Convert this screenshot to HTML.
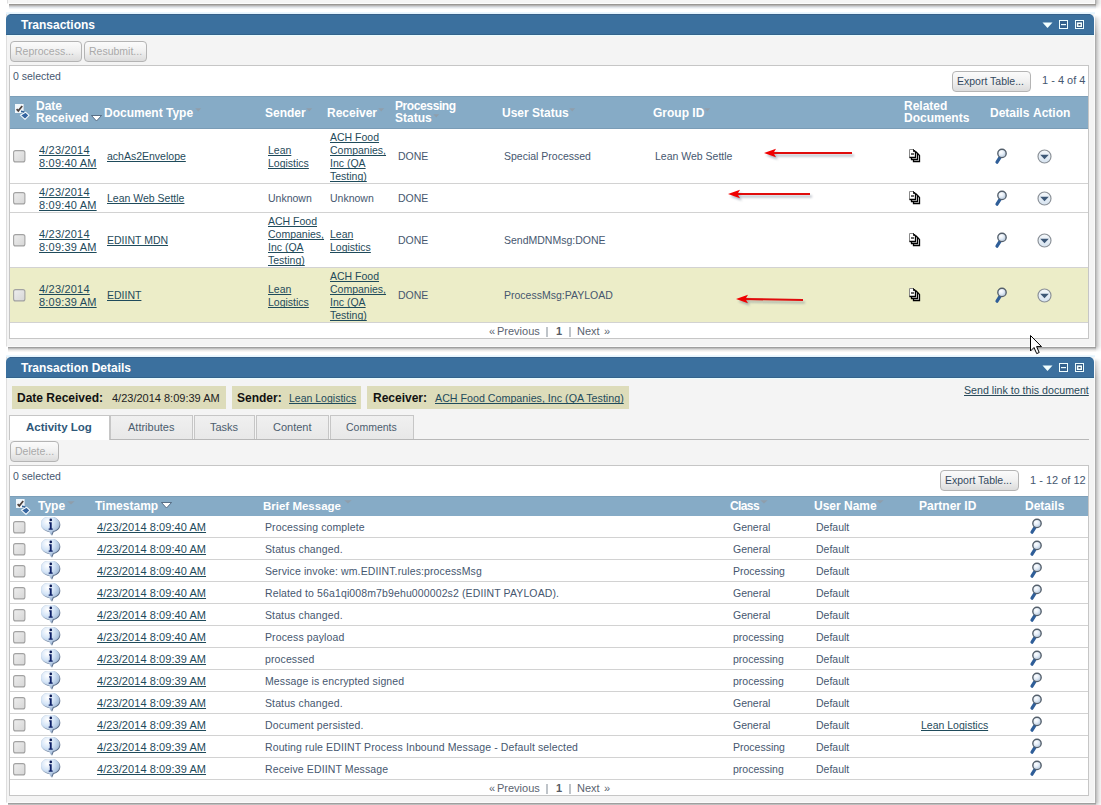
<!DOCTYPE html><html><head><meta charset="utf-8"><title>Transactions</title><style>
html,body{margin:0;padding:0;}
body{width:1101px;height:805px;overflow:hidden;position:relative;background:#ffffff;font-family:"Liberation Sans", sans-serif;}
.r{position:absolute;display:block;}
.t{position:absolute;white-space:nowrap;}
</style></head><body>
<div class="r" style="left:7px;top:-20px;width:1088px;height:24px;box-sizing:border-box;background:#f5f5f5;border-left:1px solid #dedede;border-right:1px solid #fafafa;border-bottom:1px solid #fdfdfd;"></div>
<div class="r" style="left:1095px;top:-20px;width:6px;height:29px;background:linear-gradient(90deg,#a2a2a2 0px,#bababa 1px,#cbcbcb 2px,#d9d9d9 3px,#e5e5e5 4px,#eeeeee 5px,#f3f3f3 6px);-webkit-mask-image:linear-gradient(180deg,#000 0,#000 calc(100% - 6px),transparent 100%);"></div>
<div class="r" style="left:9px;top:4px;width:1087px;height:5px;background:linear-gradient(180deg,#8c8a87 0px,#a8a6a3 1px,#c4c4c6 2px,#d8dbe0 3px,#ecf0f4 4px,#f8f8f8 5px);"></div>
<div class="r" style="left:6px;top:14px;width:1089px;height:333px;box-sizing:border-box;background:#f4f4f4;border-left:1px solid #dedede;border-right:1px solid #fafafa;border-bottom:1px solid #fbfbfb;"></div>
<div class="r" style="left:1095px;top:15px;width:6px;height:337px;background:linear-gradient(90deg,#a2a2a2 0px,#bababa 1px,#cbcbcb 2px,#d9d9d9 3px,#e5e5e5 4px,#eeeeee 5px,#f3f3f3 6px);-webkit-mask-image:linear-gradient(180deg,transparent 0,rgba(0,0,0,0.5) 4px,#000 20px,#000 calc(100% - 6px),transparent 100%);"></div>
<div class="r" style="left:8px;top:347px;width:1088px;height:5px;background:linear-gradient(180deg,#8f8f8f 0px,#b0b0b0 1px,#cdcdcd 2px,#e4e4e4 3px,#f3f1ef 4px,#fbfaf9 5px);"></div>
<div class="r" style="left:6px;top:14px;width:1088px;height:21px;background:#3b709e;border-radius:5px 5px 0 0;"></div>
<div class="r" style="left:6px;top:34px;width:1088px;height:1px;background:#33638c;"></div>
<div class="r" style="left:10px;top:14px;width:1080px;height:1px;background:#35608a;"></div>
<div class="r" style="left:6px;top:12px;width:1089px;height:2px;background:linear-gradient(180deg,#eef8ff,#e2f3fd);"></div>
<div class="r" style="left:7px;top:35px;width:1087px;height:1px;background:#eafcff;"></div>
<div class="t" style="left:21px;top:18.00px;font-size:12px;line-height:14px;color:#ffffff;font-weight:bold;">Transactions</div>
<svg class="r" style="left:1042px;top:22px" width="11" height="7" viewBox="0 0 11 7"><path d="M0.5 0.5 H10.5 L5.5 6Z" fill="#f2ffff"/></svg>
<svg class="r" style="left:1059px;top:20px" width="9" height="9" viewBox="0 0 9 9"><rect x="0.5" y="0.5" width="8" height="8" fill="#33628e" stroke="#effeff" stroke-width="1"/><rect x="2" y="4" width="5" height="1.2" fill="#effeff"/></svg>
<svg class="r" style="left:1075px;top:20px" width="9" height="9" viewBox="0 0 9 9"><rect x="0.5" y="0.5" width="8" height="8" fill="#2f5b86" stroke="#effeff" stroke-width="1"/><rect x="1.8" y="2.4" width="5.2" height="4.6" fill="#f4ffff"/><rect x="3.4" y="4.1" width="2.2" height="1.4" fill="#233a52"/></svg>
<div class="r" style="left:10px;top:41px;width:72px;height:21px;box-sizing:border-box;border:1px solid #b4b4b4;border-radius:4px;background:linear-gradient(#fbfbfb,#f0f0f0 50%,#dcdcdc);"></div>
<div class="t" style="left:15px;top:44.00px;font-size:10.5px;line-height:14px;color:#a9a9a9;">Reprocess...</div>
<div class="r" style="left:84px;top:41px;width:63px;height:21px;box-sizing:border-box;border:1px solid #b4b4b4;border-radius:4px;background:linear-gradient(#fbfbfb,#f0f0f0 50%,#dcdcdc);"></div>
<div class="t" style="left:89px;top:44.00px;font-size:10.5px;line-height:14px;color:#a9a9a9;">Resubmit...</div>
<div class="r" style="left:9px;top:65px;width:1080px;height:274px;box-sizing:border-box;background:#fff;border:1px solid #c6c6c6;"></div>
<div class="t" style="left:13px;top:69.00px;font-size:10.5px;line-height:14px;color:#46576f;">0 selected</div>
<div class="r" style="left:952px;top:71px;width:79px;height:21px;box-sizing:border-box;border:1px solid #b4b4b4;border-radius:4px;background:linear-gradient(#fbfbfb,#f0f0f0 50%,#dcdcdc);"></div>
<div class="t" style="left:957px;top:74.00px;font-size:10.5px;line-height:14px;color:#34495e;">Export Table...</div>
<div class="t" style="left:1042px;top:73.00px;font-size:11px;line-height:14px;color:#46576f;">1 - 4 of 4</div>
<div class="r" style="left:10px;top:96px;width:1078px;height:33px;background:#86abc6;border-top:1px solid #7c9fb9;border-bottom:1px solid #7a9cb6;box-sizing:border-box;"></div>
<svg class="r" style="left:14px;top:104px" width="17" height="17" viewBox="0 0 17 17"><rect x="1" y="0" width="9" height="9" fill="#fbfdff" fill-opacity="0.92"/><rect x="9" y="0" width="1" height="9" fill="#c9d7e3"/><path d="M2.6 5.2 L4.3 6.9 L8.2 2.0" fill="none" stroke="#4d423e" stroke-width="1.7"/><path d="M7 7.4 Q9.5 7.4 10.8 9.2" fill="none" stroke="#2f5f94" stroke-width="1.6"/><path d="M6.4 11.2 L11.5 8.2 L15 11.4 L11 15.4Z" fill="#3565a0" stroke="#f4fbff" stroke-width="1.1" stroke-linejoin="round"/></svg>
<div class="t" style="left:36px;top:99.00px;font-size:12px;line-height:14px;color:#ffffff;font-weight:bold;">Date</div>
<div class="t" style="left:36px;top:111.00px;font-size:12px;line-height:14px;color:#ffffff;font-weight:bold;">Received</div>
<svg class="r" style="left:91px;top:115px" width="11" height="7" viewBox="0 0 11 7"><path d="M0.5 0.5 H10.5 L5.5 6Z" fill="#ffffff" stroke="#3d5570" stroke-width="0.8"/></svg>
<div class="t" style="left:104px;top:106.00px;font-size:12px;line-height:14px;color:#ffffff;font-weight:bold;">Document Type</div>
<svg class="r" style="left:195px;top:108px" width="7" height="5" viewBox="0 0 7 5"><path d="M0.2 0.2 H6.2 L3.2 3.6Z" fill="#8f9eab"/></svg>
<div class="t" style="left:265px;top:106.00px;font-size:12px;line-height:14px;color:#ffffff;font-weight:bold;">Sender</div>
<svg class="r" style="left:306px;top:108px" width="7" height="5" viewBox="0 0 7 5"><path d="M0.2 0.2 H6.2 L3.2 3.6Z" fill="#8f9eab"/></svg>
<div class="t" style="left:327px;top:106.00px;font-size:12px;line-height:14px;color:#ffffff;font-weight:bold;">Receiver</div>
<svg class="r" style="left:378px;top:108px" width="7" height="5" viewBox="0 0 7 5"><path d="M0.2 0.2 H6.2 L3.2 3.6Z" fill="#8f9eab"/></svg>
<div class="t" style="left:395px;top:99.00px;font-size:12px;line-height:14px;color:#ffffff;font-weight:bold;letter-spacing:-0.4px;">Processing</div>
<div class="t" style="left:395px;top:111.00px;font-size:12px;line-height:14px;color:#ffffff;font-weight:bold;">Status</div>
<svg class="r" style="left:433px;top:114px" width="7" height="5" viewBox="0 0 7 5"><path d="M0.2 0.2 H6.2 L3.2 3.6Z" fill="#8f9eab"/></svg>
<div class="t" style="left:502px;top:106.00px;font-size:12px;line-height:14px;color:#ffffff;font-weight:bold;">User Status</div>
<svg class="r" style="left:569px;top:108px" width="7" height="5" viewBox="0 0 7 5"><path d="M0.2 0.2 H6.2 L3.2 3.6Z" fill="#8f9eab"/></svg>
<div class="t" style="left:653px;top:106.00px;font-size:12px;line-height:14px;color:#ffffff;font-weight:bold;">Group ID</div>
<svg class="r" style="left:704px;top:108px" width="7" height="5" viewBox="0 0 7 5"><path d="M0.2 0.2 H6.2 L3.2 3.6Z" fill="#8f9eab"/></svg>
<div class="t" style="left:904px;top:99.00px;font-size:12px;line-height:14px;color:#ffffff;font-weight:bold;">Related</div>
<div class="t" style="left:904px;top:111.00px;font-size:12px;line-height:14px;color:#ffffff;font-weight:bold;">Documents</div>
<div class="t" style="left:990px;top:106.00px;font-size:12px;line-height:14px;color:#ffffff;font-weight:bold;">Details</div>
<div class="t" style="left:1033px;top:106.00px;font-size:12px;line-height:14px;color:#ffffff;font-weight:bold;">Action</div>
<div class="r" style="left:10px;top:183px;width:1078px;height:1px;background:#d2d2d2;"></div>
<div class="r" style="left:10px;top:212px;width:1078px;height:1px;background:#d2d2d2;"></div>
<div class="r" style="left:10px;top:267px;width:1078px;height:1px;background:#d2d2d2;"></div>
<div class="r" style="left:10px;top:268px;width:1078px;height:54px;background:#ecedc8;"></div>
<div class="r" style="left:10px;top:322px;width:1078px;height:1px;background:#d2d2d2;"></div>
<svg class="r" style="left:13px;top:150px" width="13" height="13" viewBox="0 0 13 13"><defs><linearGradient id="cbg" x1="0" y1="0" x2="1" y2="1"><stop offset="0" stop-color="#eeeeee"/><stop offset="1" stop-color="#d6d6d6"/></linearGradient></defs><rect x="0.6" y="0.6" width="11.3" height="11.3" rx="2" fill="url(#cbg)" stroke="#a2a2a2" stroke-width="1.1"/></svg>
<div class="t" style="left:39px;top:143.00px;font-size:11px;line-height:14px;color:#1f4b5b;text-decoration:underline;text-underline-offset:1px;text-decoration-thickness:1px;text-decoration-skip-ink:none;letter-spacing:0.2px;">4/23/2014</div>
<div class="t" style="left:39px;top:156.00px;font-size:11px;line-height:14px;color:#1f4b5b;text-decoration:underline;text-underline-offset:1px;text-decoration-thickness:1px;text-decoration-skip-ink:none;letter-spacing:0.2px;">8:09:40 AM</div>
<div class="t" style="left:107px;top:149.00px;font-size:10.5px;line-height:14px;color:#1f4b5b;text-decoration:underline;text-underline-offset:1px;text-decoration-thickness:1px;text-decoration-skip-ink:none;">achAs2Envelope</div>
<div class="t" style="left:268px;top:143.00px;font-size:10.5px;line-height:14px;color:#1f4b5b;text-decoration:underline;text-underline-offset:1px;text-decoration-thickness:1px;text-decoration-skip-ink:none;">Lean</div>
<div class="t" style="left:268px;top:156.00px;font-size:10.5px;line-height:14px;color:#1f4b5b;text-decoration:underline;text-underline-offset:1px;text-decoration-thickness:1px;text-decoration-skip-ink:none;">Logistics</div>
<div class="t" style="left:330px;top:130.00px;font-size:10.5px;line-height:14px;color:#1f4b5b;text-decoration:underline;text-underline-offset:1px;text-decoration-thickness:1px;text-decoration-skip-ink:none;">ACH Food</div>
<div class="t" style="left:330px;top:143.00px;font-size:10.5px;line-height:14px;color:#1f4b5b;text-decoration:underline;text-underline-offset:1px;text-decoration-thickness:1px;text-decoration-skip-ink:none;">Companies,</div>
<div class="t" style="left:330px;top:156.00px;font-size:10.5px;line-height:14px;color:#1f4b5b;text-decoration:underline;text-underline-offset:1px;text-decoration-thickness:1px;text-decoration-skip-ink:none;">Inc (QA</div>
<div class="t" style="left:330px;top:169.00px;font-size:10.5px;line-height:14px;color:#1f4b5b;text-decoration:underline;text-underline-offset:1px;text-decoration-thickness:1px;text-decoration-skip-ink:none;">Testing)</div>
<div class="t" style="left:398px;top:149.00px;font-size:10.5px;line-height:14px;color:#46576f;">DONE</div>
<div class="t" style="left:504px;top:149.00px;font-size:10.5px;line-height:14px;color:#46576f;">Special Processed</div>
<div class="t" style="left:655px;top:149.00px;font-size:10.5px;line-height:14px;color:#46576f;">Lean Web Settle</div>
<svg class="r" style="left:908px;top:148px" width="14" height="16" viewBox="0 0 14 16"><path d="M5.5 5.5 H9.5 L11.5 7.5 V13.5 H5.5Z" fill="#fff" stroke="#000" stroke-width="1.3"/><path d="M3.5 3.5 H7.5 L9.5 5.5 V11.5 H3.5Z" fill="#fff" stroke="#000" stroke-width="1.3"/><path d="M1.5 1.5 H5.5 L7.5 3.5 V9.5 H1.5Z" fill="#fff" stroke="#8a8a8a" stroke-width="1"/><path d="M7.5 3.5 V9.5 H1.5" fill="none" stroke="#000" stroke-width="1.3"/><path d="M5.5 1.5 L7.5 3.5 H5.5Z" fill="#000" stroke="#000" stroke-width="0.8"/><path d="M3.0 6.0 H6.0" stroke="#000" stroke-width="1.2"/></svg>
<svg class="r" style="left:994px;top:148px" width="14" height="17" viewBox="0 0 14 17"><defs><radialGradient id="mg" cx="0.38" cy="0.35" r="0.65"><stop offset="0" stop-color="#ffffff"/><stop offset="0.5" stop-color="#e4edf7"/><stop offset="1" stop-color="#b4c6da"/></radialGradient></defs><path d="M6.0 9.3 L3.0 14.2" stroke="#2f5e98" stroke-width="3.2" stroke-linecap="round"/><circle cx="8" cy="5.4" r="4.2" fill="url(#mg)" stroke="#545f6b" stroke-width="1.35"/></svg>
<svg class="r" style="left:1037px;top:149px" width="15" height="15" viewBox="0 0 15 15"><defs><linearGradient id="ag" x1="0" y1="0" x2="0" y2="1"><stop offset="0" stop-color="#f5f8fb"/><stop offset="1" stop-color="#d6e3f0"/></linearGradient></defs><circle cx="7.5" cy="7.5" r="6.5" fill="url(#ag)" stroke="#8a9097" stroke-width="1.15"/><path d="M3.2 5.8 H11.8 L7.5 10.2Z" fill="#3d5877"/></svg>
<svg class="r" style="left:13px;top:192px" width="13" height="13" viewBox="0 0 13 13"><defs><linearGradient id="cbg" x1="0" y1="0" x2="1" y2="1"><stop offset="0" stop-color="#eeeeee"/><stop offset="1" stop-color="#d6d6d6"/></linearGradient></defs><rect x="0.6" y="0.6" width="11.3" height="11.3" rx="2" fill="url(#cbg)" stroke="#a2a2a2" stroke-width="1.1"/></svg>
<div class="t" style="left:39px;top:185.00px;font-size:11px;line-height:14px;color:#1f4b5b;text-decoration:underline;text-underline-offset:1px;text-decoration-thickness:1px;text-decoration-skip-ink:none;letter-spacing:0.2px;">4/23/2014</div>
<div class="t" style="left:39px;top:198.00px;font-size:11px;line-height:14px;color:#1f4b5b;text-decoration:underline;text-underline-offset:1px;text-decoration-thickness:1px;text-decoration-skip-ink:none;letter-spacing:0.2px;">8:09:40 AM</div>
<div class="t" style="left:107px;top:191.00px;font-size:10.5px;line-height:14px;color:#1f4b5b;text-decoration:underline;text-underline-offset:1px;text-decoration-thickness:1px;text-decoration-skip-ink:none;">Lean Web Settle</div>
<div class="t" style="left:268px;top:191.00px;font-size:10.5px;line-height:14px;color:#46576f;">Unknown</div>
<div class="t" style="left:330px;top:191.00px;font-size:10.5px;line-height:14px;color:#46576f;">Unknown</div>
<div class="t" style="left:398px;top:191.00px;font-size:10.5px;line-height:14px;color:#46576f;">DONE</div>
<svg class="r" style="left:908px;top:190px" width="14" height="16" viewBox="0 0 14 16"><path d="M5.5 5.5 H9.5 L11.5 7.5 V13.5 H5.5Z" fill="#fff" stroke="#000" stroke-width="1.3"/><path d="M3.5 3.5 H7.5 L9.5 5.5 V11.5 H3.5Z" fill="#fff" stroke="#000" stroke-width="1.3"/><path d="M1.5 1.5 H5.5 L7.5 3.5 V9.5 H1.5Z" fill="#fff" stroke="#8a8a8a" stroke-width="1"/><path d="M7.5 3.5 V9.5 H1.5" fill="none" stroke="#000" stroke-width="1.3"/><path d="M5.5 1.5 L7.5 3.5 H5.5Z" fill="#000" stroke="#000" stroke-width="0.8"/><path d="M3.0 6.0 H6.0" stroke="#000" stroke-width="1.2"/></svg>
<svg class="r" style="left:994px;top:190px" width="14" height="17" viewBox="0 0 14 17"><defs><radialGradient id="mg" cx="0.38" cy="0.35" r="0.65"><stop offset="0" stop-color="#ffffff"/><stop offset="0.5" stop-color="#e4edf7"/><stop offset="1" stop-color="#b4c6da"/></radialGradient></defs><path d="M6.0 9.3 L3.0 14.2" stroke="#2f5e98" stroke-width="3.2" stroke-linecap="round"/><circle cx="8" cy="5.4" r="4.2" fill="url(#mg)" stroke="#545f6b" stroke-width="1.35"/></svg>
<svg class="r" style="left:1037px;top:191px" width="15" height="15" viewBox="0 0 15 15"><defs><linearGradient id="ag" x1="0" y1="0" x2="0" y2="1"><stop offset="0" stop-color="#f5f8fb"/><stop offset="1" stop-color="#d6e3f0"/></linearGradient></defs><circle cx="7.5" cy="7.5" r="6.5" fill="url(#ag)" stroke="#8a9097" stroke-width="1.15"/><path d="M3.2 5.8 H11.8 L7.5 10.2Z" fill="#3d5877"/></svg>
<svg class="r" style="left:13px;top:234px" width="13" height="13" viewBox="0 0 13 13"><defs><linearGradient id="cbg" x1="0" y1="0" x2="1" y2="1"><stop offset="0" stop-color="#eeeeee"/><stop offset="1" stop-color="#d6d6d6"/></linearGradient></defs><rect x="0.6" y="0.6" width="11.3" height="11.3" rx="2" fill="url(#cbg)" stroke="#a2a2a2" stroke-width="1.1"/></svg>
<div class="t" style="left:39px;top:227.00px;font-size:11px;line-height:14px;color:#1f4b5b;text-decoration:underline;text-underline-offset:1px;text-decoration-thickness:1px;text-decoration-skip-ink:none;letter-spacing:0.2px;">4/23/2014</div>
<div class="t" style="left:39px;top:240.00px;font-size:11px;line-height:14px;color:#1f4b5b;text-decoration:underline;text-underline-offset:1px;text-decoration-thickness:1px;text-decoration-skip-ink:none;letter-spacing:0.2px;">8:09:39 AM</div>
<div class="t" style="left:107px;top:233.00px;font-size:10.5px;line-height:14px;color:#1f4b5b;text-decoration:underline;text-underline-offset:1px;text-decoration-thickness:1px;text-decoration-skip-ink:none;">EDIINT MDN</div>
<div class="t" style="left:268px;top:214.00px;font-size:10.5px;line-height:14px;color:#1f4b5b;text-decoration:underline;text-underline-offset:1px;text-decoration-thickness:1px;text-decoration-skip-ink:none;">ACH Food</div>
<div class="t" style="left:268px;top:227.00px;font-size:10.5px;line-height:14px;color:#1f4b5b;text-decoration:underline;text-underline-offset:1px;text-decoration-thickness:1px;text-decoration-skip-ink:none;">Companies,</div>
<div class="t" style="left:268px;top:240.00px;font-size:10.5px;line-height:14px;color:#1f4b5b;text-decoration:underline;text-underline-offset:1px;text-decoration-thickness:1px;text-decoration-skip-ink:none;">Inc (QA</div>
<div class="t" style="left:268px;top:253.00px;font-size:10.5px;line-height:14px;color:#1f4b5b;text-decoration:underline;text-underline-offset:1px;text-decoration-thickness:1px;text-decoration-skip-ink:none;">Testing)</div>
<div class="t" style="left:330px;top:227.00px;font-size:10.5px;line-height:14px;color:#1f4b5b;text-decoration:underline;text-underline-offset:1px;text-decoration-thickness:1px;text-decoration-skip-ink:none;">Lean</div>
<div class="t" style="left:330px;top:240.00px;font-size:10.5px;line-height:14px;color:#1f4b5b;text-decoration:underline;text-underline-offset:1px;text-decoration-thickness:1px;text-decoration-skip-ink:none;">Logistics</div>
<div class="t" style="left:398px;top:233.00px;font-size:10.5px;line-height:14px;color:#46576f;">DONE</div>
<div class="t" style="left:504px;top:233.00px;font-size:10.5px;line-height:14px;color:#46576f;">SendMDNMsg:DONE</div>
<svg class="r" style="left:908px;top:232px" width="14" height="16" viewBox="0 0 14 16"><path d="M5.5 5.5 H9.5 L11.5 7.5 V13.5 H5.5Z" fill="#fff" stroke="#000" stroke-width="1.3"/><path d="M3.5 3.5 H7.5 L9.5 5.5 V11.5 H3.5Z" fill="#fff" stroke="#000" stroke-width="1.3"/><path d="M1.5 1.5 H5.5 L7.5 3.5 V9.5 H1.5Z" fill="#fff" stroke="#8a8a8a" stroke-width="1"/><path d="M7.5 3.5 V9.5 H1.5" fill="none" stroke="#000" stroke-width="1.3"/><path d="M5.5 1.5 L7.5 3.5 H5.5Z" fill="#000" stroke="#000" stroke-width="0.8"/><path d="M3.0 6.0 H6.0" stroke="#000" stroke-width="1.2"/></svg>
<svg class="r" style="left:994px;top:232px" width="14" height="17" viewBox="0 0 14 17"><defs><radialGradient id="mg" cx="0.38" cy="0.35" r="0.65"><stop offset="0" stop-color="#ffffff"/><stop offset="0.5" stop-color="#e4edf7"/><stop offset="1" stop-color="#b4c6da"/></radialGradient></defs><path d="M6.0 9.3 L3.0 14.2" stroke="#2f5e98" stroke-width="3.2" stroke-linecap="round"/><circle cx="8" cy="5.4" r="4.2" fill="url(#mg)" stroke="#545f6b" stroke-width="1.35"/></svg>
<svg class="r" style="left:1037px;top:233px" width="15" height="15" viewBox="0 0 15 15"><defs><linearGradient id="ag" x1="0" y1="0" x2="0" y2="1"><stop offset="0" stop-color="#f5f8fb"/><stop offset="1" stop-color="#d6e3f0"/></linearGradient></defs><circle cx="7.5" cy="7.5" r="6.5" fill="url(#ag)" stroke="#8a9097" stroke-width="1.15"/><path d="M3.2 5.8 H11.8 L7.5 10.2Z" fill="#3d5877"/></svg>
<svg class="r" style="left:13px;top:289px" width="13" height="13" viewBox="0 0 13 13"><defs><linearGradient id="cbg" x1="0" y1="0" x2="1" y2="1"><stop offset="0" stop-color="#eeeeee"/><stop offset="1" stop-color="#d6d6d6"/></linearGradient></defs><rect x="0.6" y="0.6" width="11.3" height="11.3" rx="2" fill="url(#cbg)" stroke="#a2a2a2" stroke-width="1.1"/></svg>
<div class="t" style="left:39px;top:282.00px;font-size:11px;line-height:14px;color:#1f4b5b;text-decoration:underline;text-underline-offset:1px;text-decoration-thickness:1px;text-decoration-skip-ink:none;letter-spacing:0.2px;">4/23/2014</div>
<div class="t" style="left:39px;top:295.00px;font-size:11px;line-height:14px;color:#1f4b5b;text-decoration:underline;text-underline-offset:1px;text-decoration-thickness:1px;text-decoration-skip-ink:none;letter-spacing:0.2px;">8:09:39 AM</div>
<div class="t" style="left:107px;top:288.00px;font-size:10.5px;line-height:14px;color:#1f4b5b;text-decoration:underline;text-underline-offset:1px;text-decoration-thickness:1px;text-decoration-skip-ink:none;">EDIINT</div>
<div class="t" style="left:268px;top:282.00px;font-size:10.5px;line-height:14px;color:#1f4b5b;text-decoration:underline;text-underline-offset:1px;text-decoration-thickness:1px;text-decoration-skip-ink:none;">Lean</div>
<div class="t" style="left:268px;top:295.00px;font-size:10.5px;line-height:14px;color:#1f4b5b;text-decoration:underline;text-underline-offset:1px;text-decoration-thickness:1px;text-decoration-skip-ink:none;">Logistics</div>
<div class="t" style="left:330px;top:269.00px;font-size:10.5px;line-height:14px;color:#1f4b5b;text-decoration:underline;text-underline-offset:1px;text-decoration-thickness:1px;text-decoration-skip-ink:none;">ACH Food</div>
<div class="t" style="left:330px;top:282.00px;font-size:10.5px;line-height:14px;color:#1f4b5b;text-decoration:underline;text-underline-offset:1px;text-decoration-thickness:1px;text-decoration-skip-ink:none;">Companies,</div>
<div class="t" style="left:330px;top:295.00px;font-size:10.5px;line-height:14px;color:#1f4b5b;text-decoration:underline;text-underline-offset:1px;text-decoration-thickness:1px;text-decoration-skip-ink:none;">Inc (QA</div>
<div class="t" style="left:330px;top:308.00px;font-size:10.5px;line-height:14px;color:#1f4b5b;text-decoration:underline;text-underline-offset:1px;text-decoration-thickness:1px;text-decoration-skip-ink:none;">Testing)</div>
<div class="t" style="left:398px;top:288.00px;font-size:10.5px;line-height:14px;color:#46576f;">DONE</div>
<div class="t" style="left:504px;top:288.00px;font-size:10.5px;line-height:14px;color:#46576f;">ProcessMsg:PAYLOAD</div>
<svg class="r" style="left:908px;top:287px" width="14" height="16" viewBox="0 0 14 16"><path d="M5.5 5.5 H9.5 L11.5 7.5 V13.5 H5.5Z" fill="#fff" stroke="#000" stroke-width="1.3"/><path d="M3.5 3.5 H7.5 L9.5 5.5 V11.5 H3.5Z" fill="#fff" stroke="#000" stroke-width="1.3"/><path d="M1.5 1.5 H5.5 L7.5 3.5 V9.5 H1.5Z" fill="#fff" stroke="#8a8a8a" stroke-width="1"/><path d="M7.5 3.5 V9.5 H1.5" fill="none" stroke="#000" stroke-width="1.3"/><path d="M5.5 1.5 L7.5 3.5 H5.5Z" fill="#000" stroke="#000" stroke-width="0.8"/><path d="M3.0 6.0 H6.0" stroke="#000" stroke-width="1.2"/></svg>
<svg class="r" style="left:994px;top:287px" width="14" height="17" viewBox="0 0 14 17"><defs><radialGradient id="mg" cx="0.38" cy="0.35" r="0.65"><stop offset="0" stop-color="#ffffff"/><stop offset="0.5" stop-color="#e4edf7"/><stop offset="1" stop-color="#b4c6da"/></radialGradient></defs><path d="M6.0 9.3 L3.0 14.2" stroke="#2f5e98" stroke-width="3.2" stroke-linecap="round"/><circle cx="8" cy="5.4" r="4.2" fill="url(#mg)" stroke="#545f6b" stroke-width="1.35"/></svg>
<svg class="r" style="left:1037px;top:288px" width="15" height="15" viewBox="0 0 15 15"><defs><linearGradient id="ag" x1="0" y1="0" x2="0" y2="1"><stop offset="0" stop-color="#f5f8fb"/><stop offset="1" stop-color="#d6e3f0"/></linearGradient></defs><circle cx="7.5" cy="7.5" r="6.5" fill="url(#ag)" stroke="#8a9097" stroke-width="1.15"/><path d="M3.2 5.8 H11.8 L7.5 10.2Z" fill="#3d5877"/></svg>
<svg class="r" style="left:761px;top:144.5px" width="98" height="18.0" viewBox="0 0 98 18.0"><defs><filter id="ab1" x="-0.1" y="-1" width="1.2" height="3"><feGaussianBlur stdDeviation="1.1"/></filter></defs><g filter="url(#ab1)" opacity="0.45" transform="translate(2,2.5)"><path d="M11 8.0 L91 8.0" stroke="#5a6a80" stroke-width="2"/><path d="M3 8.0 L15 3.8 L12.5 8.0 L15 12.2Z" fill="#5a6a80"/></g><path d="M11 8.0 L91 8.0" stroke="#e00c0c" stroke-width="2.1"/><path d="M3 8.0 L15 3.8 L12.5 8.0 L15 12.2Z" fill="#f00000"/></svg>
<svg class="r" style="left:725px;top:185.5px" width="92" height="18.0" viewBox="0 0 92 18.0"><defs><filter id="ab2" x="-0.1" y="-1" width="1.2" height="3"><feGaussianBlur stdDeviation="1.1"/></filter></defs><g filter="url(#ab2)" opacity="0.45" transform="translate(2,2.5)"><path d="M11 8.0 L85 8.0" stroke="#5a6a80" stroke-width="2"/><path d="M3 8.0 L15 3.8 L12.5 8.0 L15 12.2Z" fill="#5a6a80"/></g><path d="M11 8.0 L85 8.0" stroke="#e00c0c" stroke-width="2.1"/><path d="M3 8.0 L15 3.8 L12.5 8.0 L15 12.2Z" fill="#f00000"/></svg>
<svg class="r" style="left:733px;top:290.5px" width="77" height="19.0" viewBox="0 0 77 19.0"><defs><filter id="ab3" x="-0.1" y="-1" width="1.2" height="3"><feGaussianBlur stdDeviation="1.1"/></filter></defs><g filter="url(#ab3)" opacity="0.45" transform="translate(2,2.5)"><path d="M11 8.0 L70 9.0" stroke="#5a6a80" stroke-width="2"/><path d="M3 8.0 L15 3.8 L12.5 8.0 L15 12.2Z" fill="#5a6a80"/></g><path d="M11 8.0 L70 9.0" stroke="#e00c0c" stroke-width="2.1"/><path d="M3 8.0 L15 3.8 L12.5 8.0 L15 12.2Z" fill="#f00000"/></svg>
<div class="t" style="left:489px;top:324.00px;font-size:11px;line-height:14px;color:#5b6470;">«</div>
<div class="t" style="left:497px;top:324.00px;font-size:11px;line-height:14px;color:#5b6470;">Previous</div>
<div class="r" style="left:546px;top:327px;width:2px;height:10px;background:#bfc4c9;"></div>
<div class="t" style="left:556px;top:324.00px;font-size:11px;line-height:14px;color:#555b63;font-weight:bold;">1</div>
<div class="r" style="left:569px;top:327px;width:2px;height:10px;background:#bfc4c9;"></div>
<div class="t" style="left:577px;top:324.00px;font-size:11px;line-height:14px;color:#5b6470;">Next</div>
<div class="t" style="left:604px;top:324.00px;font-size:11px;line-height:14px;color:#5b6470;">»</div>
<svg class="r" style="left:1030px;top:335px" width="13" height="20" viewBox="0 0 13 20"><path d="M0.5 0.5 V16 L4 12.5 L6.7 18.6 L9.2 17.5 L6.6 11.6 L11.5 11.6Z" fill="#fff" stroke="#000" stroke-width="1" stroke-linejoin="round"/></svg>
<div class="r" style="left:6px;top:357px;width:1089px;height:446px;box-sizing:border-box;background:#f4f4f4;border-left:1px solid #dedede;border-right:1px solid #fafafa;border-bottom:1px solid #fbfbfb;"></div>
<div class="r" style="left:1095px;top:358px;width:6px;height:450px;background:linear-gradient(90deg,#a2a2a2 0px,#bababa 1px,#cbcbcb 2px,#d9d9d9 3px,#e5e5e5 4px,#eeeeee 5px,#f3f3f3 6px);-webkit-mask-image:linear-gradient(180deg,transparent 0,rgba(0,0,0,0.5) 4px,#000 20px,#000 calc(100% - 6px),transparent 100%);"></div>
<div class="r" style="left:8px;top:803px;width:1088px;height:5px;background:linear-gradient(180deg,#8f8f8f 0px,#b0b0b0 1px,#cdcdcd 2px,#e4e4e4 3px,#f3f1ef 4px,#fbfaf9 5px);"></div>
<div class="r" style="left:6px;top:357px;width:1088px;height:21px;background:#3b709e;border-radius:5px 5px 0 0;"></div>
<div class="r" style="left:6px;top:377px;width:1088px;height:1px;background:#33638c;"></div>
<div class="r" style="left:10px;top:357px;width:1080px;height:1px;background:#35608a;"></div>
<div class="r" style="left:6px;top:355px;width:1089px;height:2px;background:linear-gradient(180deg,#eef8ff,#e2f3fd);"></div>
<div class="r" style="left:7px;top:378px;width:1087px;height:1px;background:#eafcff;"></div>
<div class="t" style="left:21px;top:361.00px;font-size:12px;line-height:14px;color:#ffffff;font-weight:bold;">Transaction Details</div>
<svg class="r" style="left:1042px;top:365px" width="11" height="7" viewBox="0 0 11 7"><path d="M0.5 0.5 H10.5 L5.5 6Z" fill="#f2ffff"/></svg>
<svg class="r" style="left:1059px;top:363px" width="9" height="9" viewBox="0 0 9 9"><rect x="0.5" y="0.5" width="8" height="8" fill="#33628e" stroke="#effeff" stroke-width="1"/><rect x="2" y="4" width="5" height="1.2" fill="#effeff"/></svg>
<svg class="r" style="left:1075px;top:363px" width="9" height="9" viewBox="0 0 9 9"><rect x="0.5" y="0.5" width="8" height="8" fill="#2f5b86" stroke="#effeff" stroke-width="1"/><rect x="1.8" y="2.4" width="5.2" height="4.6" fill="#f4ffff"/><rect x="3.4" y="4.1" width="2.2" height="1.4" fill="#233a52"/></svg>
<div class="r" style="left:12px;top:386px;width:214px;height:23px;background:#dddcba;"></div>
<div class="t" style="left:17px;top:391.00px;font-size:12px;line-height:14px;color:#111111;font-weight:bold;">Date Received:</div>
<div class="t" style="left:112px;top:391.00px;font-size:11px;line-height:14px;color:#222222;">4/23/2014 8:09:39 AM</div>
<div class="r" style="left:232px;top:386px;width:129px;height:23px;background:#dddcba;"></div>
<div class="t" style="left:237px;top:391.00px;font-size:12px;line-height:14px;color:#111111;font-weight:bold;">Sender:</div>
<div class="t" style="left:289px;top:391.00px;font-size:10.5px;line-height:14px;color:#1f4b5b;text-decoration:underline;text-underline-offset:1px;text-decoration-thickness:1px;text-decoration-skip-ink:none;">Lean Logistics</div>
<div class="r" style="left:367px;top:386px;width:262px;height:23px;background:#dddcba;"></div>
<div class="t" style="left:373px;top:391.00px;font-size:12px;line-height:14px;color:#111111;font-weight:bold;">Receiver:</div>
<div class="t" style="left:435px;top:391.00px;font-size:10.7px;line-height:14px;color:#1f4b5b;text-decoration:underline;text-underline-offset:1px;text-decoration-thickness:1px;text-decoration-skip-ink:none;">ACH Food Companies, Inc (QA Testing)</div>
<div class="t" style="left:964px;top:383.00px;font-size:10.65px;line-height:14px;color:#2a4a5a;text-decoration:underline;text-underline-offset:1px;text-decoration-thickness:1px;text-decoration-skip-ink:none;">Send link to this document</div>
<div class="r" style="left:9px;top:439px;width:1080px;height:1px;background:#b8b8b8;"></div>
<div class="r" style="left:110px;top:415px;width:83px;height:24px;box-sizing:border-box;background:linear-gradient(#f0f0f0,#e8e8e8);border:1px solid #c6c6c6;border-bottom:none;"></div>
<div class="t" style="left:128px;top:420.00px;font-size:11px;line-height:14px;color:#4c5d6e;">Attributes</div>
<div class="r" style="left:194px;top:415px;width:61px;height:24px;box-sizing:border-box;background:linear-gradient(#f0f0f0,#e8e8e8);border:1px solid #c6c6c6;border-bottom:none;"></div>
<div class="t" style="left:210px;top:420.00px;font-size:11px;line-height:14px;color:#4c5d6e;">Tasks</div>
<div class="r" style="left:256px;top:415px;width:73px;height:24px;box-sizing:border-box;background:linear-gradient(#f0f0f0,#e8e8e8);border:1px solid #c6c6c6;border-bottom:none;"></div>
<div class="t" style="left:273px;top:420.00px;font-size:11px;line-height:14px;color:#4c5d6e;">Content</div>
<div class="r" style="left:330px;top:415px;width:84px;height:24px;box-sizing:border-box;background:linear-gradient(#f0f0f0,#e8e8e8);border:1px solid #c6c6c6;border-bottom:none;"></div>
<div class="t" style="left:346px;top:420.00px;font-size:10.5px;line-height:14px;color:#4c5d6e;">Comments</div>
<div class="r" style="left:9px;top:415px;width:101px;height:25px;box-sizing:border-box;background:#fff;border:1px solid #c6c6c6;border-bottom:none;"></div>
<div class="t" style="left:26px;top:420.00px;font-size:11.5px;line-height:14px;color:#2f587a;font-weight:bold;">Activity Log</div>
<div class="r" style="left:10px;top:441px;width:49px;height:21px;box-sizing:border-box;border:1px solid #b4b4b4;border-radius:4px;background:linear-gradient(#fbfbfb,#f0f0f0 50%,#dcdcdc);"></div>
<div class="t" style="left:15px;top:444.00px;font-size:10.5px;line-height:14px;color:#a9a9a9;">Delete...</div>
<div class="r" style="left:9px;top:465px;width:1080px;height:331px;box-sizing:border-box;background:#fff;border:1px solid #c6c6c6;"></div>
<div class="t" style="left:13px;top:469.00px;font-size:10.5px;line-height:14px;color:#46576f;">0 selected</div>
<div class="r" style="left:940px;top:470px;width:79px;height:21px;box-sizing:border-box;border:1px solid #b4b4b4;border-radius:4px;background:linear-gradient(#fbfbfb,#f0f0f0 50%,#dcdcdc);"></div>
<div class="t" style="left:945px;top:473.00px;font-size:10.5px;line-height:14px;color:#34495e;">Export Table...</div>
<div class="t" style="left:1030px;top:473.00px;font-size:11px;line-height:14px;color:#46576f;">1 - 12 of 12</div>
<div class="r" style="left:10px;top:496px;width:1078px;height:20px;background:#86abc6;border-top:1px solid #7c9fb9;box-sizing:border-box;"></div>
<svg class="r" style="left:15px;top:499px" width="17" height="17" viewBox="0 0 17 17"><rect x="1" y="0" width="9" height="9" fill="#fbfdff" fill-opacity="0.92"/><rect x="9" y="0" width="1" height="9" fill="#c9d7e3"/><path d="M2.6 5.2 L4.3 6.9 L8.2 2.0" fill="none" stroke="#4d423e" stroke-width="1.7"/><path d="M7 7.4 Q9.5 7.4 10.8 9.2" fill="none" stroke="#2f5f94" stroke-width="1.6"/><path d="M6.4 11.2 L11.5 8.2 L15 11.4 L11 15.4Z" fill="#3565a0" stroke="#f4fbff" stroke-width="1.1" stroke-linejoin="round"/></svg>
<div class="t" style="left:38px;top:499.00px;font-size:12px;line-height:14px;color:#ffffff;font-weight:bold;">Type</div>
<svg class="r" style="left:67px;top:501px" width="8.5" height="5" viewBox="0 0 8.5 5"><path d="M0.2 0.2 H7.7 L3.95 3.6Z" fill="#8f9eab"/></svg>
<div class="t" style="left:95px;top:499.00px;font-size:12px;line-height:14px;color:#ffffff;font-weight:bold;">Timestamp</div>
<svg class="r" style="left:161px;top:502px" width="11" height="7" viewBox="0 0 11 7"><path d="M0.5 0.5 H10.5 L5.5 6Z" fill="#ffffff" stroke="#3d5570" stroke-width="0.8"/></svg>
<div class="t" style="left:263px;top:499.00px;font-size:11.5px;line-height:14px;color:#ffffff;font-weight:bold;">Brief Message</div>
<svg class="r" style="left:344px;top:500px" width="8.5" height="5" viewBox="0 0 8.5 5"><path d="M0.2 0.2 H7.7 L3.95 3.6Z" fill="#8f9eab"/></svg>
<div class="t" style="left:730px;top:499.00px;font-size:12px;line-height:14px;color:#ffffff;font-weight:bold;letter-spacing:-0.6px;">Class</div>
<svg class="r" style="left:760px;top:500px" width="8.5" height="5" viewBox="0 0 8.5 5"><path d="M0.2 0.2 H7.7 L3.95 3.6Z" fill="#8f9eab"/></svg>
<div class="t" style="left:814px;top:499.00px;font-size:12px;line-height:14px;color:#ffffff;font-weight:bold;">User Name</div>
<svg class="r" style="left:876px;top:500px" width="8.5" height="5" viewBox="0 0 8.5 5"><path d="M0.2 0.2 H7.7 L3.95 3.6Z" fill="#8f9eab"/></svg>
<div class="t" style="left:919px;top:499.00px;font-size:12px;line-height:14px;color:#ffffff;font-weight:bold;">Partner ID</div>
<div class="t" style="left:1025px;top:499.00px;font-size:12px;line-height:14px;color:#ffffff;font-weight:bold;">Details</div>
<div class="r" style="left:10px;top:537px;width:1078px;height:1px;background:#d2d2d2;"></div>
<svg class="r" style="left:13px;top:521px" width="13" height="13" viewBox="0 0 13 13"><defs><linearGradient id="cbg" x1="0" y1="0" x2="1" y2="1"><stop offset="0" stop-color="#eeeeee"/><stop offset="1" stop-color="#d6d6d6"/></linearGradient></defs><rect x="0.6" y="0.6" width="11.3" height="11.3" rx="2" fill="url(#cbg)" stroke="#a2a2a2" stroke-width="1.1"/></svg>
<svg class="r" style="left:41px;top:517px" width="20" height="19" viewBox="0 0 20 19"><defs><radialGradient id="ig" cx="0.36" cy="0.28" r="0.72"><stop offset="0" stop-color="#ffffff"/><stop offset="0.5" stop-color="#d5e5f7"/><stop offset="1" stop-color="#9cb6d6"/></radialGradient></defs><path d="M10 0.3 C15.2 0.3 19.3 3.4 19.3 7.8 C19.3 11.6 16.4 14.3 12.7 15.0 L11.0 18.7 L8.9 15.1 C4.2 14.6 0.7 11.7 0.7 7.8 C0.7 3.4 4.8 0.3 10 0.3Z" fill="#566a88"/><path d="M10 0.3 C15.2 0.3 19.3 3.4 19.3 7.8 C19.3 11.6 16.4 14.3 12.7 15.0 L11.0 18.7 L8.9 15.1 C4.2 14.6 0.7 11.7 0.7 7.8 C0.7 3.4 4.8 0.3 10 0.3Z" transform="translate(-0.9,-0.9)" fill="url(#ig)" stroke="#b8c8da" stroke-width="0.4"/><circle cx="9.8" cy="2.9" r="1.3" fill="#0b1a55"/><path d="M8.0 5.3 H10.7 V11.4 H11.7 V12.7 H7.7 V11.4 H8.8 V6.6 H8.0Z" fill="#0d2066"/></svg>
<div class="t" style="left:97px;top:520.00px;font-size:11px;line-height:14px;color:#1f4b5b;text-decoration:underline;text-underline-offset:1px;text-decoration-thickness:1px;text-decoration-skip-ink:none;letter-spacing:0.07px;">4/23/2014 8:09:40 AM</div>
<div class="t" style="left:265px;top:520.00px;font-size:10.5px;line-height:14px;color:#46576f;letter-spacing:0.12px;">Processing complete</div>
<div class="t" style="left:733px;top:520.00px;font-size:10.5px;line-height:14px;color:#46576f;">General</div>
<div class="t" style="left:816px;top:520.00px;font-size:10.5px;line-height:14px;color:#46576f;">Default</div>
<svg class="r" style="left:1029px;top:518px" width="14" height="17" viewBox="0 0 14 17"><defs><radialGradient id="mg" cx="0.38" cy="0.35" r="0.65"><stop offset="0" stop-color="#ffffff"/><stop offset="0.5" stop-color="#e4edf7"/><stop offset="1" stop-color="#b4c6da"/></radialGradient></defs><path d="M6.0 9.3 L3.0 14.2" stroke="#2f5e98" stroke-width="3.2" stroke-linecap="round"/><circle cx="8" cy="5.4" r="4.2" fill="url(#mg)" stroke="#545f6b" stroke-width="1.35"/></svg>
<div class="r" style="left:10px;top:559px;width:1078px;height:1px;background:#d2d2d2;"></div>
<svg class="r" style="left:13px;top:543px" width="13" height="13" viewBox="0 0 13 13"><defs><linearGradient id="cbg" x1="0" y1="0" x2="1" y2="1"><stop offset="0" stop-color="#eeeeee"/><stop offset="1" stop-color="#d6d6d6"/></linearGradient></defs><rect x="0.6" y="0.6" width="11.3" height="11.3" rx="2" fill="url(#cbg)" stroke="#a2a2a2" stroke-width="1.1"/></svg>
<svg class="r" style="left:41px;top:539px" width="20" height="19" viewBox="0 0 20 19"><defs><radialGradient id="ig" cx="0.36" cy="0.28" r="0.72"><stop offset="0" stop-color="#ffffff"/><stop offset="0.5" stop-color="#d5e5f7"/><stop offset="1" stop-color="#9cb6d6"/></radialGradient></defs><path d="M10 0.3 C15.2 0.3 19.3 3.4 19.3 7.8 C19.3 11.6 16.4 14.3 12.7 15.0 L11.0 18.7 L8.9 15.1 C4.2 14.6 0.7 11.7 0.7 7.8 C0.7 3.4 4.8 0.3 10 0.3Z" fill="#566a88"/><path d="M10 0.3 C15.2 0.3 19.3 3.4 19.3 7.8 C19.3 11.6 16.4 14.3 12.7 15.0 L11.0 18.7 L8.9 15.1 C4.2 14.6 0.7 11.7 0.7 7.8 C0.7 3.4 4.8 0.3 10 0.3Z" transform="translate(-0.9,-0.9)" fill="url(#ig)" stroke="#b8c8da" stroke-width="0.4"/><circle cx="9.8" cy="2.9" r="1.3" fill="#0b1a55"/><path d="M8.0 5.3 H10.7 V11.4 H11.7 V12.7 H7.7 V11.4 H8.8 V6.6 H8.0Z" fill="#0d2066"/></svg>
<div class="t" style="left:97px;top:542.00px;font-size:11px;line-height:14px;color:#1f4b5b;text-decoration:underline;text-underline-offset:1px;text-decoration-thickness:1px;text-decoration-skip-ink:none;letter-spacing:0.07px;">4/23/2014 8:09:40 AM</div>
<div class="t" style="left:265px;top:542.00px;font-size:10.5px;line-height:14px;color:#46576f;letter-spacing:0.12px;">Status changed.</div>
<div class="t" style="left:733px;top:542.00px;font-size:10.5px;line-height:14px;color:#46576f;">General</div>
<div class="t" style="left:816px;top:542.00px;font-size:10.5px;line-height:14px;color:#46576f;">Default</div>
<svg class="r" style="left:1029px;top:540px" width="14" height="17" viewBox="0 0 14 17"><defs><radialGradient id="mg" cx="0.38" cy="0.35" r="0.65"><stop offset="0" stop-color="#ffffff"/><stop offset="0.5" stop-color="#e4edf7"/><stop offset="1" stop-color="#b4c6da"/></radialGradient></defs><path d="M6.0 9.3 L3.0 14.2" stroke="#2f5e98" stroke-width="3.2" stroke-linecap="round"/><circle cx="8" cy="5.4" r="4.2" fill="url(#mg)" stroke="#545f6b" stroke-width="1.35"/></svg>
<div class="r" style="left:10px;top:581px;width:1078px;height:1px;background:#d2d2d2;"></div>
<svg class="r" style="left:13px;top:565px" width="13" height="13" viewBox="0 0 13 13"><defs><linearGradient id="cbg" x1="0" y1="0" x2="1" y2="1"><stop offset="0" stop-color="#eeeeee"/><stop offset="1" stop-color="#d6d6d6"/></linearGradient></defs><rect x="0.6" y="0.6" width="11.3" height="11.3" rx="2" fill="url(#cbg)" stroke="#a2a2a2" stroke-width="1.1"/></svg>
<svg class="r" style="left:41px;top:561px" width="20" height="19" viewBox="0 0 20 19"><defs><radialGradient id="ig" cx="0.36" cy="0.28" r="0.72"><stop offset="0" stop-color="#ffffff"/><stop offset="0.5" stop-color="#d5e5f7"/><stop offset="1" stop-color="#9cb6d6"/></radialGradient></defs><path d="M10 0.3 C15.2 0.3 19.3 3.4 19.3 7.8 C19.3 11.6 16.4 14.3 12.7 15.0 L11.0 18.7 L8.9 15.1 C4.2 14.6 0.7 11.7 0.7 7.8 C0.7 3.4 4.8 0.3 10 0.3Z" fill="#566a88"/><path d="M10 0.3 C15.2 0.3 19.3 3.4 19.3 7.8 C19.3 11.6 16.4 14.3 12.7 15.0 L11.0 18.7 L8.9 15.1 C4.2 14.6 0.7 11.7 0.7 7.8 C0.7 3.4 4.8 0.3 10 0.3Z" transform="translate(-0.9,-0.9)" fill="url(#ig)" stroke="#b8c8da" stroke-width="0.4"/><circle cx="9.8" cy="2.9" r="1.3" fill="#0b1a55"/><path d="M8.0 5.3 H10.7 V11.4 H11.7 V12.7 H7.7 V11.4 H8.8 V6.6 H8.0Z" fill="#0d2066"/></svg>
<div class="t" style="left:97px;top:564.00px;font-size:11px;line-height:14px;color:#1f4b5b;text-decoration:underline;text-underline-offset:1px;text-decoration-thickness:1px;text-decoration-skip-ink:none;letter-spacing:0.07px;">4/23/2014 8:09:40 AM</div>
<div class="t" style="left:265px;top:564.00px;font-size:10.5px;line-height:14px;color:#46576f;letter-spacing:0.12px;">Service invoke: wm.EDIINT.rules:processMsg</div>
<div class="t" style="left:733px;top:564.00px;font-size:10.5px;line-height:14px;color:#46576f;">Processing</div>
<div class="t" style="left:816px;top:564.00px;font-size:10.5px;line-height:14px;color:#46576f;">Default</div>
<svg class="r" style="left:1029px;top:562px" width="14" height="17" viewBox="0 0 14 17"><defs><radialGradient id="mg" cx="0.38" cy="0.35" r="0.65"><stop offset="0" stop-color="#ffffff"/><stop offset="0.5" stop-color="#e4edf7"/><stop offset="1" stop-color="#b4c6da"/></radialGradient></defs><path d="M6.0 9.3 L3.0 14.2" stroke="#2f5e98" stroke-width="3.2" stroke-linecap="round"/><circle cx="8" cy="5.4" r="4.2" fill="url(#mg)" stroke="#545f6b" stroke-width="1.35"/></svg>
<div class="r" style="left:10px;top:603px;width:1078px;height:1px;background:#d2d2d2;"></div>
<svg class="r" style="left:13px;top:587px" width="13" height="13" viewBox="0 0 13 13"><defs><linearGradient id="cbg" x1="0" y1="0" x2="1" y2="1"><stop offset="0" stop-color="#eeeeee"/><stop offset="1" stop-color="#d6d6d6"/></linearGradient></defs><rect x="0.6" y="0.6" width="11.3" height="11.3" rx="2" fill="url(#cbg)" stroke="#a2a2a2" stroke-width="1.1"/></svg>
<svg class="r" style="left:41px;top:583px" width="20" height="19" viewBox="0 0 20 19"><defs><radialGradient id="ig" cx="0.36" cy="0.28" r="0.72"><stop offset="0" stop-color="#ffffff"/><stop offset="0.5" stop-color="#d5e5f7"/><stop offset="1" stop-color="#9cb6d6"/></radialGradient></defs><path d="M10 0.3 C15.2 0.3 19.3 3.4 19.3 7.8 C19.3 11.6 16.4 14.3 12.7 15.0 L11.0 18.7 L8.9 15.1 C4.2 14.6 0.7 11.7 0.7 7.8 C0.7 3.4 4.8 0.3 10 0.3Z" fill="#566a88"/><path d="M10 0.3 C15.2 0.3 19.3 3.4 19.3 7.8 C19.3 11.6 16.4 14.3 12.7 15.0 L11.0 18.7 L8.9 15.1 C4.2 14.6 0.7 11.7 0.7 7.8 C0.7 3.4 4.8 0.3 10 0.3Z" transform="translate(-0.9,-0.9)" fill="url(#ig)" stroke="#b8c8da" stroke-width="0.4"/><circle cx="9.8" cy="2.9" r="1.3" fill="#0b1a55"/><path d="M8.0 5.3 H10.7 V11.4 H11.7 V12.7 H7.7 V11.4 H8.8 V6.6 H8.0Z" fill="#0d2066"/></svg>
<div class="t" style="left:97px;top:586.00px;font-size:11px;line-height:14px;color:#1f4b5b;text-decoration:underline;text-underline-offset:1px;text-decoration-thickness:1px;text-decoration-skip-ink:none;letter-spacing:0.07px;">4/23/2014 8:09:40 AM</div>
<div class="t" style="left:265px;top:586.00px;font-size:10.5px;line-height:14px;color:#46576f;letter-spacing:0.12px;">Related to 56a1qi008m7b9ehu000002s2 (EDIINT PAYLOAD).</div>
<div class="t" style="left:733px;top:586.00px;font-size:10.5px;line-height:14px;color:#46576f;">General</div>
<div class="t" style="left:816px;top:586.00px;font-size:10.5px;line-height:14px;color:#46576f;">Default</div>
<svg class="r" style="left:1029px;top:584px" width="14" height="17" viewBox="0 0 14 17"><defs><radialGradient id="mg" cx="0.38" cy="0.35" r="0.65"><stop offset="0" stop-color="#ffffff"/><stop offset="0.5" stop-color="#e4edf7"/><stop offset="1" stop-color="#b4c6da"/></radialGradient></defs><path d="M6.0 9.3 L3.0 14.2" stroke="#2f5e98" stroke-width="3.2" stroke-linecap="round"/><circle cx="8" cy="5.4" r="4.2" fill="url(#mg)" stroke="#545f6b" stroke-width="1.35"/></svg>
<div class="r" style="left:10px;top:625px;width:1078px;height:1px;background:#d2d2d2;"></div>
<svg class="r" style="left:13px;top:609px" width="13" height="13" viewBox="0 0 13 13"><defs><linearGradient id="cbg" x1="0" y1="0" x2="1" y2="1"><stop offset="0" stop-color="#eeeeee"/><stop offset="1" stop-color="#d6d6d6"/></linearGradient></defs><rect x="0.6" y="0.6" width="11.3" height="11.3" rx="2" fill="url(#cbg)" stroke="#a2a2a2" stroke-width="1.1"/></svg>
<svg class="r" style="left:41px;top:605px" width="20" height="19" viewBox="0 0 20 19"><defs><radialGradient id="ig" cx="0.36" cy="0.28" r="0.72"><stop offset="0" stop-color="#ffffff"/><stop offset="0.5" stop-color="#d5e5f7"/><stop offset="1" stop-color="#9cb6d6"/></radialGradient></defs><path d="M10 0.3 C15.2 0.3 19.3 3.4 19.3 7.8 C19.3 11.6 16.4 14.3 12.7 15.0 L11.0 18.7 L8.9 15.1 C4.2 14.6 0.7 11.7 0.7 7.8 C0.7 3.4 4.8 0.3 10 0.3Z" fill="#566a88"/><path d="M10 0.3 C15.2 0.3 19.3 3.4 19.3 7.8 C19.3 11.6 16.4 14.3 12.7 15.0 L11.0 18.7 L8.9 15.1 C4.2 14.6 0.7 11.7 0.7 7.8 C0.7 3.4 4.8 0.3 10 0.3Z" transform="translate(-0.9,-0.9)" fill="url(#ig)" stroke="#b8c8da" stroke-width="0.4"/><circle cx="9.8" cy="2.9" r="1.3" fill="#0b1a55"/><path d="M8.0 5.3 H10.7 V11.4 H11.7 V12.7 H7.7 V11.4 H8.8 V6.6 H8.0Z" fill="#0d2066"/></svg>
<div class="t" style="left:97px;top:608.00px;font-size:11px;line-height:14px;color:#1f4b5b;text-decoration:underline;text-underline-offset:1px;text-decoration-thickness:1px;text-decoration-skip-ink:none;letter-spacing:0.07px;">4/23/2014 8:09:40 AM</div>
<div class="t" style="left:265px;top:608.00px;font-size:10.5px;line-height:14px;color:#46576f;letter-spacing:0.12px;">Status changed.</div>
<div class="t" style="left:733px;top:608.00px;font-size:10.5px;line-height:14px;color:#46576f;">General</div>
<div class="t" style="left:816px;top:608.00px;font-size:10.5px;line-height:14px;color:#46576f;">Default</div>
<svg class="r" style="left:1029px;top:606px" width="14" height="17" viewBox="0 0 14 17"><defs><radialGradient id="mg" cx="0.38" cy="0.35" r="0.65"><stop offset="0" stop-color="#ffffff"/><stop offset="0.5" stop-color="#e4edf7"/><stop offset="1" stop-color="#b4c6da"/></radialGradient></defs><path d="M6.0 9.3 L3.0 14.2" stroke="#2f5e98" stroke-width="3.2" stroke-linecap="round"/><circle cx="8" cy="5.4" r="4.2" fill="url(#mg)" stroke="#545f6b" stroke-width="1.35"/></svg>
<div class="r" style="left:10px;top:647px;width:1078px;height:1px;background:#d2d2d2;"></div>
<svg class="r" style="left:13px;top:631px" width="13" height="13" viewBox="0 0 13 13"><defs><linearGradient id="cbg" x1="0" y1="0" x2="1" y2="1"><stop offset="0" stop-color="#eeeeee"/><stop offset="1" stop-color="#d6d6d6"/></linearGradient></defs><rect x="0.6" y="0.6" width="11.3" height="11.3" rx="2" fill="url(#cbg)" stroke="#a2a2a2" stroke-width="1.1"/></svg>
<svg class="r" style="left:41px;top:627px" width="20" height="19" viewBox="0 0 20 19"><defs><radialGradient id="ig" cx="0.36" cy="0.28" r="0.72"><stop offset="0" stop-color="#ffffff"/><stop offset="0.5" stop-color="#d5e5f7"/><stop offset="1" stop-color="#9cb6d6"/></radialGradient></defs><path d="M10 0.3 C15.2 0.3 19.3 3.4 19.3 7.8 C19.3 11.6 16.4 14.3 12.7 15.0 L11.0 18.7 L8.9 15.1 C4.2 14.6 0.7 11.7 0.7 7.8 C0.7 3.4 4.8 0.3 10 0.3Z" fill="#566a88"/><path d="M10 0.3 C15.2 0.3 19.3 3.4 19.3 7.8 C19.3 11.6 16.4 14.3 12.7 15.0 L11.0 18.7 L8.9 15.1 C4.2 14.6 0.7 11.7 0.7 7.8 C0.7 3.4 4.8 0.3 10 0.3Z" transform="translate(-0.9,-0.9)" fill="url(#ig)" stroke="#b8c8da" stroke-width="0.4"/><circle cx="9.8" cy="2.9" r="1.3" fill="#0b1a55"/><path d="M8.0 5.3 H10.7 V11.4 H11.7 V12.7 H7.7 V11.4 H8.8 V6.6 H8.0Z" fill="#0d2066"/></svg>
<div class="t" style="left:97px;top:630.00px;font-size:11px;line-height:14px;color:#1f4b5b;text-decoration:underline;text-underline-offset:1px;text-decoration-thickness:1px;text-decoration-skip-ink:none;letter-spacing:0.07px;">4/23/2014 8:09:40 AM</div>
<div class="t" style="left:265px;top:630.00px;font-size:10.5px;line-height:14px;color:#46576f;letter-spacing:0.12px;">Process payload</div>
<div class="t" style="left:733px;top:630.00px;font-size:10.5px;line-height:14px;color:#46576f;">processing</div>
<div class="t" style="left:816px;top:630.00px;font-size:10.5px;line-height:14px;color:#46576f;">Default</div>
<svg class="r" style="left:1029px;top:628px" width="14" height="17" viewBox="0 0 14 17"><defs><radialGradient id="mg" cx="0.38" cy="0.35" r="0.65"><stop offset="0" stop-color="#ffffff"/><stop offset="0.5" stop-color="#e4edf7"/><stop offset="1" stop-color="#b4c6da"/></radialGradient></defs><path d="M6.0 9.3 L3.0 14.2" stroke="#2f5e98" stroke-width="3.2" stroke-linecap="round"/><circle cx="8" cy="5.4" r="4.2" fill="url(#mg)" stroke="#545f6b" stroke-width="1.35"/></svg>
<div class="r" style="left:10px;top:669px;width:1078px;height:1px;background:#d2d2d2;"></div>
<svg class="r" style="left:13px;top:653px" width="13" height="13" viewBox="0 0 13 13"><defs><linearGradient id="cbg" x1="0" y1="0" x2="1" y2="1"><stop offset="0" stop-color="#eeeeee"/><stop offset="1" stop-color="#d6d6d6"/></linearGradient></defs><rect x="0.6" y="0.6" width="11.3" height="11.3" rx="2" fill="url(#cbg)" stroke="#a2a2a2" stroke-width="1.1"/></svg>
<svg class="r" style="left:41px;top:649px" width="20" height="19" viewBox="0 0 20 19"><defs><radialGradient id="ig" cx="0.36" cy="0.28" r="0.72"><stop offset="0" stop-color="#ffffff"/><stop offset="0.5" stop-color="#d5e5f7"/><stop offset="1" stop-color="#9cb6d6"/></radialGradient></defs><path d="M10 0.3 C15.2 0.3 19.3 3.4 19.3 7.8 C19.3 11.6 16.4 14.3 12.7 15.0 L11.0 18.7 L8.9 15.1 C4.2 14.6 0.7 11.7 0.7 7.8 C0.7 3.4 4.8 0.3 10 0.3Z" fill="#566a88"/><path d="M10 0.3 C15.2 0.3 19.3 3.4 19.3 7.8 C19.3 11.6 16.4 14.3 12.7 15.0 L11.0 18.7 L8.9 15.1 C4.2 14.6 0.7 11.7 0.7 7.8 C0.7 3.4 4.8 0.3 10 0.3Z" transform="translate(-0.9,-0.9)" fill="url(#ig)" stroke="#b8c8da" stroke-width="0.4"/><circle cx="9.8" cy="2.9" r="1.3" fill="#0b1a55"/><path d="M8.0 5.3 H10.7 V11.4 H11.7 V12.7 H7.7 V11.4 H8.8 V6.6 H8.0Z" fill="#0d2066"/></svg>
<div class="t" style="left:97px;top:652.00px;font-size:11px;line-height:14px;color:#1f4b5b;text-decoration:underline;text-underline-offset:1px;text-decoration-thickness:1px;text-decoration-skip-ink:none;letter-spacing:0.07px;">4/23/2014 8:09:39 AM</div>
<div class="t" style="left:265px;top:652.00px;font-size:10.5px;line-height:14px;color:#46576f;letter-spacing:0.12px;">processed</div>
<div class="t" style="left:733px;top:652.00px;font-size:10.5px;line-height:14px;color:#46576f;">processing</div>
<div class="t" style="left:816px;top:652.00px;font-size:10.5px;line-height:14px;color:#46576f;">Default</div>
<svg class="r" style="left:1029px;top:650px" width="14" height="17" viewBox="0 0 14 17"><defs><radialGradient id="mg" cx="0.38" cy="0.35" r="0.65"><stop offset="0" stop-color="#ffffff"/><stop offset="0.5" stop-color="#e4edf7"/><stop offset="1" stop-color="#b4c6da"/></radialGradient></defs><path d="M6.0 9.3 L3.0 14.2" stroke="#2f5e98" stroke-width="3.2" stroke-linecap="round"/><circle cx="8" cy="5.4" r="4.2" fill="url(#mg)" stroke="#545f6b" stroke-width="1.35"/></svg>
<div class="r" style="left:10px;top:691px;width:1078px;height:1px;background:#d2d2d2;"></div>
<svg class="r" style="left:13px;top:675px" width="13" height="13" viewBox="0 0 13 13"><defs><linearGradient id="cbg" x1="0" y1="0" x2="1" y2="1"><stop offset="0" stop-color="#eeeeee"/><stop offset="1" stop-color="#d6d6d6"/></linearGradient></defs><rect x="0.6" y="0.6" width="11.3" height="11.3" rx="2" fill="url(#cbg)" stroke="#a2a2a2" stroke-width="1.1"/></svg>
<svg class="r" style="left:41px;top:671px" width="20" height="19" viewBox="0 0 20 19"><defs><radialGradient id="ig" cx="0.36" cy="0.28" r="0.72"><stop offset="0" stop-color="#ffffff"/><stop offset="0.5" stop-color="#d5e5f7"/><stop offset="1" stop-color="#9cb6d6"/></radialGradient></defs><path d="M10 0.3 C15.2 0.3 19.3 3.4 19.3 7.8 C19.3 11.6 16.4 14.3 12.7 15.0 L11.0 18.7 L8.9 15.1 C4.2 14.6 0.7 11.7 0.7 7.8 C0.7 3.4 4.8 0.3 10 0.3Z" fill="#566a88"/><path d="M10 0.3 C15.2 0.3 19.3 3.4 19.3 7.8 C19.3 11.6 16.4 14.3 12.7 15.0 L11.0 18.7 L8.9 15.1 C4.2 14.6 0.7 11.7 0.7 7.8 C0.7 3.4 4.8 0.3 10 0.3Z" transform="translate(-0.9,-0.9)" fill="url(#ig)" stroke="#b8c8da" stroke-width="0.4"/><circle cx="9.8" cy="2.9" r="1.3" fill="#0b1a55"/><path d="M8.0 5.3 H10.7 V11.4 H11.7 V12.7 H7.7 V11.4 H8.8 V6.6 H8.0Z" fill="#0d2066"/></svg>
<div class="t" style="left:97px;top:674.00px;font-size:11px;line-height:14px;color:#1f4b5b;text-decoration:underline;text-underline-offset:1px;text-decoration-thickness:1px;text-decoration-skip-ink:none;letter-spacing:0.07px;">4/23/2014 8:09:39 AM</div>
<div class="t" style="left:265px;top:674.00px;font-size:10.5px;line-height:14px;color:#46576f;letter-spacing:0.12px;">Message is encrypted signed</div>
<div class="t" style="left:733px;top:674.00px;font-size:10.5px;line-height:14px;color:#46576f;">processing</div>
<div class="t" style="left:816px;top:674.00px;font-size:10.5px;line-height:14px;color:#46576f;">Default</div>
<svg class="r" style="left:1029px;top:672px" width="14" height="17" viewBox="0 0 14 17"><defs><radialGradient id="mg" cx="0.38" cy="0.35" r="0.65"><stop offset="0" stop-color="#ffffff"/><stop offset="0.5" stop-color="#e4edf7"/><stop offset="1" stop-color="#b4c6da"/></radialGradient></defs><path d="M6.0 9.3 L3.0 14.2" stroke="#2f5e98" stroke-width="3.2" stroke-linecap="round"/><circle cx="8" cy="5.4" r="4.2" fill="url(#mg)" stroke="#545f6b" stroke-width="1.35"/></svg>
<div class="r" style="left:10px;top:713px;width:1078px;height:1px;background:#d2d2d2;"></div>
<svg class="r" style="left:13px;top:697px" width="13" height="13" viewBox="0 0 13 13"><defs><linearGradient id="cbg" x1="0" y1="0" x2="1" y2="1"><stop offset="0" stop-color="#eeeeee"/><stop offset="1" stop-color="#d6d6d6"/></linearGradient></defs><rect x="0.6" y="0.6" width="11.3" height="11.3" rx="2" fill="url(#cbg)" stroke="#a2a2a2" stroke-width="1.1"/></svg>
<svg class="r" style="left:41px;top:693px" width="20" height="19" viewBox="0 0 20 19"><defs><radialGradient id="ig" cx="0.36" cy="0.28" r="0.72"><stop offset="0" stop-color="#ffffff"/><stop offset="0.5" stop-color="#d5e5f7"/><stop offset="1" stop-color="#9cb6d6"/></radialGradient></defs><path d="M10 0.3 C15.2 0.3 19.3 3.4 19.3 7.8 C19.3 11.6 16.4 14.3 12.7 15.0 L11.0 18.7 L8.9 15.1 C4.2 14.6 0.7 11.7 0.7 7.8 C0.7 3.4 4.8 0.3 10 0.3Z" fill="#566a88"/><path d="M10 0.3 C15.2 0.3 19.3 3.4 19.3 7.8 C19.3 11.6 16.4 14.3 12.7 15.0 L11.0 18.7 L8.9 15.1 C4.2 14.6 0.7 11.7 0.7 7.8 C0.7 3.4 4.8 0.3 10 0.3Z" transform="translate(-0.9,-0.9)" fill="url(#ig)" stroke="#b8c8da" stroke-width="0.4"/><circle cx="9.8" cy="2.9" r="1.3" fill="#0b1a55"/><path d="M8.0 5.3 H10.7 V11.4 H11.7 V12.7 H7.7 V11.4 H8.8 V6.6 H8.0Z" fill="#0d2066"/></svg>
<div class="t" style="left:97px;top:696.00px;font-size:11px;line-height:14px;color:#1f4b5b;text-decoration:underline;text-underline-offset:1px;text-decoration-thickness:1px;text-decoration-skip-ink:none;letter-spacing:0.07px;">4/23/2014 8:09:39 AM</div>
<div class="t" style="left:265px;top:696.00px;font-size:10.5px;line-height:14px;color:#46576f;letter-spacing:0.12px;">Status changed.</div>
<div class="t" style="left:733px;top:696.00px;font-size:10.5px;line-height:14px;color:#46576f;">General</div>
<div class="t" style="left:816px;top:696.00px;font-size:10.5px;line-height:14px;color:#46576f;">Default</div>
<svg class="r" style="left:1029px;top:694px" width="14" height="17" viewBox="0 0 14 17"><defs><radialGradient id="mg" cx="0.38" cy="0.35" r="0.65"><stop offset="0" stop-color="#ffffff"/><stop offset="0.5" stop-color="#e4edf7"/><stop offset="1" stop-color="#b4c6da"/></radialGradient></defs><path d="M6.0 9.3 L3.0 14.2" stroke="#2f5e98" stroke-width="3.2" stroke-linecap="round"/><circle cx="8" cy="5.4" r="4.2" fill="url(#mg)" stroke="#545f6b" stroke-width="1.35"/></svg>
<div class="r" style="left:10px;top:735px;width:1078px;height:1px;background:#d2d2d2;"></div>
<svg class="r" style="left:13px;top:719px" width="13" height="13" viewBox="0 0 13 13"><defs><linearGradient id="cbg" x1="0" y1="0" x2="1" y2="1"><stop offset="0" stop-color="#eeeeee"/><stop offset="1" stop-color="#d6d6d6"/></linearGradient></defs><rect x="0.6" y="0.6" width="11.3" height="11.3" rx="2" fill="url(#cbg)" stroke="#a2a2a2" stroke-width="1.1"/></svg>
<svg class="r" style="left:41px;top:715px" width="20" height="19" viewBox="0 0 20 19"><defs><radialGradient id="ig" cx="0.36" cy="0.28" r="0.72"><stop offset="0" stop-color="#ffffff"/><stop offset="0.5" stop-color="#d5e5f7"/><stop offset="1" stop-color="#9cb6d6"/></radialGradient></defs><path d="M10 0.3 C15.2 0.3 19.3 3.4 19.3 7.8 C19.3 11.6 16.4 14.3 12.7 15.0 L11.0 18.7 L8.9 15.1 C4.2 14.6 0.7 11.7 0.7 7.8 C0.7 3.4 4.8 0.3 10 0.3Z" fill="#566a88"/><path d="M10 0.3 C15.2 0.3 19.3 3.4 19.3 7.8 C19.3 11.6 16.4 14.3 12.7 15.0 L11.0 18.7 L8.9 15.1 C4.2 14.6 0.7 11.7 0.7 7.8 C0.7 3.4 4.8 0.3 10 0.3Z" transform="translate(-0.9,-0.9)" fill="url(#ig)" stroke="#b8c8da" stroke-width="0.4"/><circle cx="9.8" cy="2.9" r="1.3" fill="#0b1a55"/><path d="M8.0 5.3 H10.7 V11.4 H11.7 V12.7 H7.7 V11.4 H8.8 V6.6 H8.0Z" fill="#0d2066"/></svg>
<div class="t" style="left:97px;top:718.00px;font-size:11px;line-height:14px;color:#1f4b5b;text-decoration:underline;text-underline-offset:1px;text-decoration-thickness:1px;text-decoration-skip-ink:none;letter-spacing:0.07px;">4/23/2014 8:09:39 AM</div>
<div class="t" style="left:265px;top:718.00px;font-size:10.5px;line-height:14px;color:#46576f;letter-spacing:0.12px;">Document persisted.</div>
<div class="t" style="left:733px;top:718.00px;font-size:10.5px;line-height:14px;color:#46576f;">General</div>
<div class="t" style="left:816px;top:718.00px;font-size:10.5px;line-height:14px;color:#46576f;">Default</div>
<div class="t" style="left:921px;top:718.00px;font-size:10.5px;line-height:14px;color:#1f4b5b;text-decoration:underline;text-underline-offset:1px;text-decoration-thickness:1px;text-decoration-skip-ink:none;">Lean Logistics</div>
<svg class="r" style="left:1029px;top:716px" width="14" height="17" viewBox="0 0 14 17"><defs><radialGradient id="mg" cx="0.38" cy="0.35" r="0.65"><stop offset="0" stop-color="#ffffff"/><stop offset="0.5" stop-color="#e4edf7"/><stop offset="1" stop-color="#b4c6da"/></radialGradient></defs><path d="M6.0 9.3 L3.0 14.2" stroke="#2f5e98" stroke-width="3.2" stroke-linecap="round"/><circle cx="8" cy="5.4" r="4.2" fill="url(#mg)" stroke="#545f6b" stroke-width="1.35"/></svg>
<div class="r" style="left:10px;top:757px;width:1078px;height:1px;background:#d2d2d2;"></div>
<svg class="r" style="left:13px;top:741px" width="13" height="13" viewBox="0 0 13 13"><defs><linearGradient id="cbg" x1="0" y1="0" x2="1" y2="1"><stop offset="0" stop-color="#eeeeee"/><stop offset="1" stop-color="#d6d6d6"/></linearGradient></defs><rect x="0.6" y="0.6" width="11.3" height="11.3" rx="2" fill="url(#cbg)" stroke="#a2a2a2" stroke-width="1.1"/></svg>
<svg class="r" style="left:41px;top:737px" width="20" height="19" viewBox="0 0 20 19"><defs><radialGradient id="ig" cx="0.36" cy="0.28" r="0.72"><stop offset="0" stop-color="#ffffff"/><stop offset="0.5" stop-color="#d5e5f7"/><stop offset="1" stop-color="#9cb6d6"/></radialGradient></defs><path d="M10 0.3 C15.2 0.3 19.3 3.4 19.3 7.8 C19.3 11.6 16.4 14.3 12.7 15.0 L11.0 18.7 L8.9 15.1 C4.2 14.6 0.7 11.7 0.7 7.8 C0.7 3.4 4.8 0.3 10 0.3Z" fill="#566a88"/><path d="M10 0.3 C15.2 0.3 19.3 3.4 19.3 7.8 C19.3 11.6 16.4 14.3 12.7 15.0 L11.0 18.7 L8.9 15.1 C4.2 14.6 0.7 11.7 0.7 7.8 C0.7 3.4 4.8 0.3 10 0.3Z" transform="translate(-0.9,-0.9)" fill="url(#ig)" stroke="#b8c8da" stroke-width="0.4"/><circle cx="9.8" cy="2.9" r="1.3" fill="#0b1a55"/><path d="M8.0 5.3 H10.7 V11.4 H11.7 V12.7 H7.7 V11.4 H8.8 V6.6 H8.0Z" fill="#0d2066"/></svg>
<div class="t" style="left:97px;top:740.00px;font-size:11px;line-height:14px;color:#1f4b5b;text-decoration:underline;text-underline-offset:1px;text-decoration-thickness:1px;text-decoration-skip-ink:none;letter-spacing:0.07px;">4/23/2014 8:09:39 AM</div>
<div class="t" style="left:265px;top:740.00px;font-size:10.5px;line-height:14px;color:#46576f;letter-spacing:0.12px;">Routing rule EDIINT Process Inbound Message - Default selected</div>
<div class="t" style="left:733px;top:740.00px;font-size:10.5px;line-height:14px;color:#46576f;">Processing</div>
<div class="t" style="left:816px;top:740.00px;font-size:10.5px;line-height:14px;color:#46576f;">Default</div>
<svg class="r" style="left:1029px;top:738px" width="14" height="17" viewBox="0 0 14 17"><defs><radialGradient id="mg" cx="0.38" cy="0.35" r="0.65"><stop offset="0" stop-color="#ffffff"/><stop offset="0.5" stop-color="#e4edf7"/><stop offset="1" stop-color="#b4c6da"/></radialGradient></defs><path d="M6.0 9.3 L3.0 14.2" stroke="#2f5e98" stroke-width="3.2" stroke-linecap="round"/><circle cx="8" cy="5.4" r="4.2" fill="url(#mg)" stroke="#545f6b" stroke-width="1.35"/></svg>
<div class="r" style="left:10px;top:779px;width:1078px;height:1px;background:#d2d2d2;"></div>
<svg class="r" style="left:13px;top:763px" width="13" height="13" viewBox="0 0 13 13"><defs><linearGradient id="cbg" x1="0" y1="0" x2="1" y2="1"><stop offset="0" stop-color="#eeeeee"/><stop offset="1" stop-color="#d6d6d6"/></linearGradient></defs><rect x="0.6" y="0.6" width="11.3" height="11.3" rx="2" fill="url(#cbg)" stroke="#a2a2a2" stroke-width="1.1"/></svg>
<svg class="r" style="left:41px;top:759px" width="20" height="19" viewBox="0 0 20 19"><defs><radialGradient id="ig" cx="0.36" cy="0.28" r="0.72"><stop offset="0" stop-color="#ffffff"/><stop offset="0.5" stop-color="#d5e5f7"/><stop offset="1" stop-color="#9cb6d6"/></radialGradient></defs><path d="M10 0.3 C15.2 0.3 19.3 3.4 19.3 7.8 C19.3 11.6 16.4 14.3 12.7 15.0 L11.0 18.7 L8.9 15.1 C4.2 14.6 0.7 11.7 0.7 7.8 C0.7 3.4 4.8 0.3 10 0.3Z" fill="#566a88"/><path d="M10 0.3 C15.2 0.3 19.3 3.4 19.3 7.8 C19.3 11.6 16.4 14.3 12.7 15.0 L11.0 18.7 L8.9 15.1 C4.2 14.6 0.7 11.7 0.7 7.8 C0.7 3.4 4.8 0.3 10 0.3Z" transform="translate(-0.9,-0.9)" fill="url(#ig)" stroke="#b8c8da" stroke-width="0.4"/><circle cx="9.8" cy="2.9" r="1.3" fill="#0b1a55"/><path d="M8.0 5.3 H10.7 V11.4 H11.7 V12.7 H7.7 V11.4 H8.8 V6.6 H8.0Z" fill="#0d2066"/></svg>
<div class="t" style="left:97px;top:762.00px;font-size:11px;line-height:14px;color:#1f4b5b;text-decoration:underline;text-underline-offset:1px;text-decoration-thickness:1px;text-decoration-skip-ink:none;letter-spacing:0.07px;">4/23/2014 8:09:39 AM</div>
<div class="t" style="left:265px;top:762.00px;font-size:10.5px;line-height:14px;color:#46576f;letter-spacing:0.12px;">Receive EDIINT Message</div>
<div class="t" style="left:733px;top:762.00px;font-size:10.5px;line-height:14px;color:#46576f;">processing</div>
<div class="t" style="left:816px;top:762.00px;font-size:10.5px;line-height:14px;color:#46576f;">Default</div>
<svg class="r" style="left:1029px;top:760px" width="14" height="17" viewBox="0 0 14 17"><defs><radialGradient id="mg" cx="0.38" cy="0.35" r="0.65"><stop offset="0" stop-color="#ffffff"/><stop offset="0.5" stop-color="#e4edf7"/><stop offset="1" stop-color="#b4c6da"/></radialGradient></defs><path d="M6.0 9.3 L3.0 14.2" stroke="#2f5e98" stroke-width="3.2" stroke-linecap="round"/><circle cx="8" cy="5.4" r="4.2" fill="url(#mg)" stroke="#545f6b" stroke-width="1.35"/></svg>
<div class="t" style="left:489px;top:781.00px;font-size:11px;line-height:14px;color:#5b6470;">«</div>
<div class="t" style="left:497px;top:781.00px;font-size:11px;line-height:14px;color:#5b6470;">Previous</div>
<div class="r" style="left:546px;top:784px;width:2px;height:10px;background:#bfc4c9;"></div>
<div class="t" style="left:556px;top:781.00px;font-size:11px;line-height:14px;color:#555b63;font-weight:bold;">1</div>
<div class="r" style="left:569px;top:784px;width:2px;height:10px;background:#bfc4c9;"></div>
<div class="t" style="left:577px;top:781.00px;font-size:11px;line-height:14px;color:#5b6470;">Next</div>
<div class="t" style="left:604px;top:781.00px;font-size:11px;line-height:14px;color:#5b6470;">»</div>
</body></html>
